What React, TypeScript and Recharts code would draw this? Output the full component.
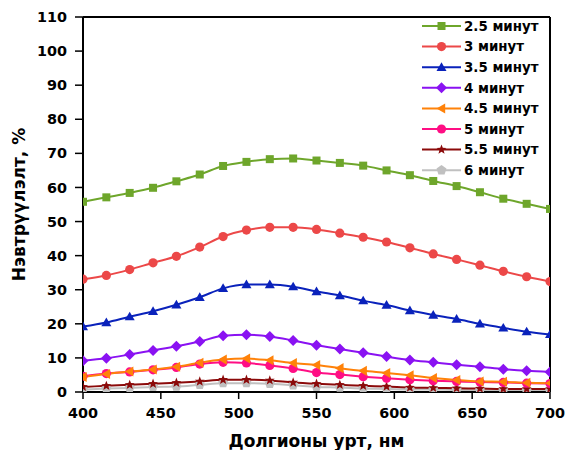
import React from "react";
import {
  LineChart,
  Line,
  XAxis,
  YAxis,
  ReferenceLine,
  Label,
} from "recharts";

// Wavelength grid, nm
const wavelengths = [
  400, 415, 430, 445, 460, 475, 490, 505, 520, 535, 550, 565, 580, 595, 610,
  625, 640, 655, 670, 685, 700,
];

// Transmittance (%) for each exposure time
const t25 = [55.8, 57.1, 58.4, 59.9, 61.8, 63.8, 66.3, 67.5, 68.3, 68.5, 67.9, 67.2, 66.4, 65.0, 63.6, 61.9, 60.4, 58.6, 56.7, 55.2, 53.7];
const t30 = [33.1, 34.2, 35.9, 37.9, 39.8, 42.5, 45.6, 47.5, 48.3, 48.3, 47.7, 46.6, 45.4, 44.0, 42.3, 40.5, 38.9, 37.2, 35.4, 33.8, 32.4];
const t35 = [19.2, 20.4, 22.1, 23.7, 25.6, 27.8, 30.4, 31.5, 31.5, 30.9, 29.5, 28.3, 26.8, 25.5, 23.9, 22.6, 21.4, 20.0, 18.8, 17.7, 16.9];
const t40 = [9.2, 9.9, 11.0, 12.2, 13.4, 14.8, 16.5, 16.8, 16.3, 15.1, 13.7, 12.6, 11.5, 10.4, 9.4, 8.7, 8.0, 7.4, 6.7, 6.2, 5.9];
const t45 = [4.4, 5.3, 6.0, 6.6, 7.4, 8.6, 9.5, 9.8, 9.3, 8.5, 7.9, 7.0, 6.2, 5.6, 4.9, 4.1, 3.5, 3.1, 3.0, 2.7, 2.6];
const t50 = [4.6, 5.4, 5.9, 6.5, 7.2, 8.2, 8.7, 8.5, 7.8, 6.9, 5.7, 5.1, 4.5, 4.0, 3.6, 3.3, 3.1, 2.9, 2.8, 2.6, 2.5];
const t55 = [1.5, 1.8, 2.1, 2.4, 2.7, 3.1, 3.6, 3.6, 3.4, 2.8, 2.4, 2.1, 1.8, 1.6, 1.3, 1.2, 1.1, 1.0, 0.9, 0.9, 0.9];
const t60 = [0.7, 1.0, 1.2, 1.5, 1.6, 2.1, 2.6, 2.6, 2.4, 2.0, 1.5, 1.3, 1.0, 0.9, 0.7, 0.7, 0.6, 0.5, 0.5, 0.4, 0.4];

const xTicks = [400, 450, 500, 550, 600, 650, 700];
const yTicks = [0, 10, 20, 30, 40, 50, 60, 70, 80, 90, 100, 110];

type Shape =
  | "square"
  | "circle"
  | "triangleUp"
  | "diamond"
  | "triangleLeft"
  | "star"
  | "pentagon";

const seriesDefs: { key: string; name: string; values: number[]; color: string; shape: Shape }[] = [
  { key: "s25", name: "2.5 минут", values: t25, color: "#6ea62b", shape: "square" },
  { key: "s30", name: "3 минут", values: t30, color: "#ec4848", shape: "circle" },
  { key: "s35", name: "3.5 минут", values: t35, color: "#0a22bb", shape: "triangleUp" },
  { key: "s40", name: "4 минут", values: t40, color: "#8a12f2", shape: "diamond" },
  { key: "s45", name: "4.5 минут", values: t45, color: "#ff8209", shape: "triangleLeft" },
  { key: "s50", name: "5 минут", values: t50, color: "#ff0e84", shape: "circle" },
  { key: "s55", name: "5.5 минут", values: t55, color: "#8b0a0a", shape: "star" },
  { key: "s60", name: "6 минут", values: t60, color: "#c0c0c0", shape: "pentagon" },
];

const rows = wavelengths.map((wl, i) => {
  const row: Record<string, number> = { wl };
  seriesDefs.forEach((s) => {
    row[s.key] = s.values[i];
  });
  return row;
});

const FONT = "'DejaVu Sans', 'Liberation Sans', Arial, sans-serif";

function polygon(cx: number, cy: number, r: number, n: number, rot: number, inner?: number) {
  const pts: string[] = [];
  const total = inner ? n * 2 : n;
  for (let i = 0; i < total; i++) {
    const rr = inner && i % 2 === 1 ? inner : r;
    const a = rot + (i * 2 * Math.PI) / total;
    pts.push(`${(cx + rr * Math.cos(a)).toFixed(2)},${(cy + rr * Math.sin(a)).toFixed(2)}`);
  }
  return pts.join(" ");
}

function Marker({ shape, cx, cy, color }: { shape: Shape; cx: number; cy: number; color: string }) {
  switch (shape) {
    case "square":
      return <rect x={cx - 4} y={cy - 4} width={8} height={8} fill={color} />;
    case "circle":
      return <circle cx={cx} cy={cy} r={4.6} fill={color} />;
    case "triangleUp":
      return <polygon points={polygon(cx, cy + 0.8, 5.8, 3, -Math.PI / 2)} fill={color} />;
    case "diamond":
      return <polygon points={polygon(cx, cy, 5.5, 4, -Math.PI / 2)} fill={color} />;
    case "triangleLeft":
      return <polygon points={polygon(cx + 0.8, cy, 5.8, 3, Math.PI)} fill={color} />;
    case "star":
      return <polygon points={polygon(cx, cy, 5.2, 5, -Math.PI / 2, 2.2)} fill={color} />;
    case "pentagon":
      return <polygon points={polygon(cx, cy, 5.2, 5, -Math.PI / 2)} fill={color} />;
    default:
      return null;
  }
}

const makeDot = (shape: Shape, color: string, id: string) => (props: any) => {
  const { cx, cy, index } = props;
  if (cx == null || cy == null) return <g key={`${id}-${index}`} />;
  return (
    <g key={`${id}-${index}`}>
      <Marker shape={shape} cx={cx} cy={cy} color={color} />
    </g>
  );
};

// Legend drawn as an overlay in the top-right corner of the plot
function LegendBox() {
  const rowH = 20.6;
  return (
    <svg width={140} height={170} style={{ display: "block" }}>
      {seriesDefs.map((s, i) => {
        const y = 11 + i * rowH;
        return (
          <g key={s.key}>
            <line x1={7} x2={46} y1={y} y2={y} stroke={s.color} strokeWidth={2} />
            <Marker shape={s.shape} cx={26.5} cy={y} color={s.color} />
            <text
              x={49}
              y={y}
              dy="0.36em"
              fontFamily={FONT}
              fontWeight="bold"
              fontSize={13.4}
              fill="#000"
            >
              {s.name}
            </text>
          </g>
        );
      })}
    </svg>
  );
}

const tickStyle = { fill: "#000", fontFamily: FONT, fontWeight: "bold", fontSize: 14.4 } as const;
const titleStyle = { fill: "#000", fontFamily: FONT, fontWeight: "bold", fontSize: 17 } as const;

export default function App() {
  return (
    <div style={{ position: "absolute", left: 0, top: 0, width: 566, height: 450, background: "#fff" }}>
      <LineChart
        width={566}
        height={450}
        data={rows}
        margin={{ top: 17, right: 16, left: 0, bottom: 0 }}
      >
        <XAxis
          dataKey="wl"
          type="number"
          domain={[400, 700]}
          ticks={xTicks}
          interval={0}
          allowDataOverflow
          height={58}
          tickSize={7}
          tickMargin={8.5}
          axisLine={{ stroke: "#000", strokeWidth: 2 }}
          tickLine={{ stroke: "#000", strokeWidth: 1.5 }}
          tick={tickStyle}
        >
          <Label value="Долгионы урт, нм" position="insideBottom" offset={3.5} style={titleStyle} />
        </XAxis>
        <YAxis
          type="number"
          domain={[0, 110]}
          ticks={yTicks}
          interval={0}
          allowDataOverflow
          width={83}
          tickSize={8}
          tickMargin={8}
          axisLine={{ stroke: "#000", strokeWidth: 2 }}
          tickLine={{ stroke: "#000", strokeWidth: 1.5 }}
          tick={tickStyle}
        >
          <Label
            value="Нэвтрүүлэлт, %"
            angle={-90}
            position="insideLeft"
            offset={19}
            style={{ ...titleStyle, textAnchor: "middle" }}
          />
        </YAxis>
        <ReferenceLine y={110} stroke="#000" strokeWidth={2} ifOverflow="visible" />
        <ReferenceLine x={700} stroke="#000" strokeWidth={2} ifOverflow="visible" />
        {seriesDefs
          .slice()
          .reverse()
          .map((s) => (
            <Line
              key={s.key}
              dataKey={s.key}
              name={s.name}
              type="monotone"
              stroke={s.color}
              strokeWidth={2}
              dot={makeDot(s.shape, s.color, s.key)}
              activeDot={false}
              isAnimationActive={false}
            />
          ))}
      </LineChart>
      <div style={{ position: "absolute", left: 415, top: 15 }}>
        <LegendBox />
      </div>
    </div>
  );
}
